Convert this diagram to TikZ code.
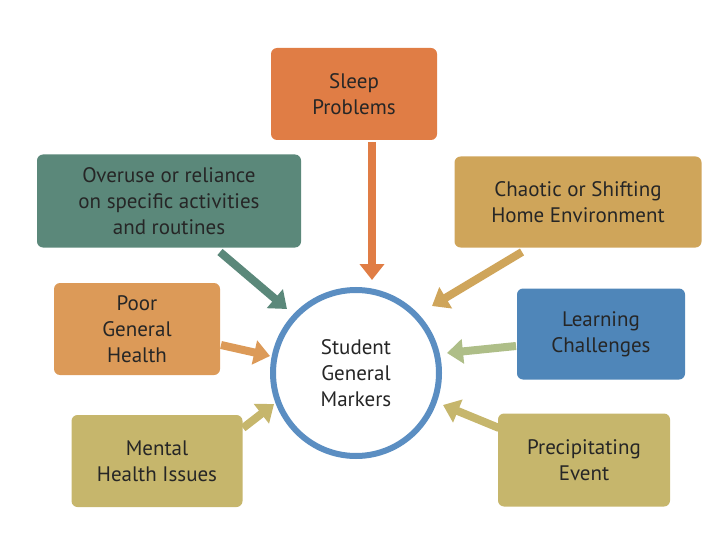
\documentclass[tikz,border=0pt]{standalone}
\usepackage{fontspec}
\setmainfont{PT Sans}
\usetikzlibrary{arrows.meta}
\definecolor{cOrange}{HTML}{E07D45}
\definecolor{cTeal}{HTML}{5B887A}
\definecolor{cGold}{HTML}{CFA55A}
\definecolor{cLOrange}{HTML}{DC9A58}
\definecolor{cOlive}{HTML}{C6B66C}
\definecolor{cBlue}{HTML}{4F86B9}
\definecolor{cGreen}{HTML}{AEBE88}
\definecolor{cRing}{HTML}{5B8EC2}
\tikzset{
 box/.style={rounded corners=6pt, draw=none, align=center, font=\fontsize{21}{26}\selectfont, inner sep=2pt},
 blk/.style={line width=8pt, -{Triangle[length=16pt,width=24pt]}, shorten >=0pt}
}
\begin{document}
\begin{tikzpicture}[x=1pt,y=-1pt]
\useasboundingbox (0,0) rectangle (720,540);
\node[box, fill=cOrange, minimum width=166pt, minimum height=92pt, text=black!85] (sleep) at (354,94) {Sleep\\Problems};
\node[box, fill=cTeal, minimum width=264pt, minimum height=93pt, text=black!85] (over) at (169,201) {Overuse or reliance\\on specific activities\\and routines};
\node[box, fill=cGold, minimum width=247pt, minimum height=91pt, text=black!85] (chaos) at (578,202) {Chaotic or Shifting\\Home Environment};
\node[box, fill=cLOrange, minimum width=166pt, minimum height=92pt, text=black!85] (poor) at (137,329) {Poor\\General\\Health};
\node[box, fill=cOlive, minimum width=171pt, minimum height=92pt, text=black!85] (mental) at (157,461) {Mental\\Health Issues};
\node[box, fill=cBlue, minimum width=168pt, minimum height=91pt, text=black!85] (learn) at (601,334) {Learning\\Challenges};
\node[box, fill=cOlive, minimum width=172pt, minimum height=93pt, text=black!85] (precip) at (584,460) {Precipitating\\Event};
\node[circle, draw=cRing, line width=6pt, fill=white, minimum size=166pt, align=center, font=\fontsize{21}{26}\selectfont, text=black!85] (stud) at (356,373) {Student\\General\\Markers};
\coordinate (a1) at (372,142); \coordinate (b1) at (372,280);
\coordinate (a2) at (220,252); \coordinate (b2) at (287,309);
\coordinate (a3) at (522,252); \coordinate (b3) at (432,306);
\coordinate (a4) at (221,345); \coordinate (b4) at (270,356);
\coordinate (a5) at (243,428); \coordinate (b5) at (274,404);
\coordinate (a6) at (516,346); \coordinate (b6) at (447,353);
\coordinate (a7) at (499,428); \coordinate (b7) at (443,405);
\draw[blk, draw=cOrange, fill=cOrange] (a1) -- (b1);
\draw[blk, draw=cTeal, fill=cTeal] (a2) -- (b2);
\draw[blk, draw=cGold, fill=cGold] (a3) -- (b3);
\draw[blk, draw=cLOrange, fill=cLOrange] (a4) -- (b4);
\draw[blk, draw=cOlive, fill=cOlive] (a5) -- (b5);
\draw[blk, draw=cGreen, fill=cGreen] (a6) -- (b6);
\draw[blk, draw=cOlive, fill=cOlive] (a7) -- (b7);
\end{tikzpicture}
\end{document}
